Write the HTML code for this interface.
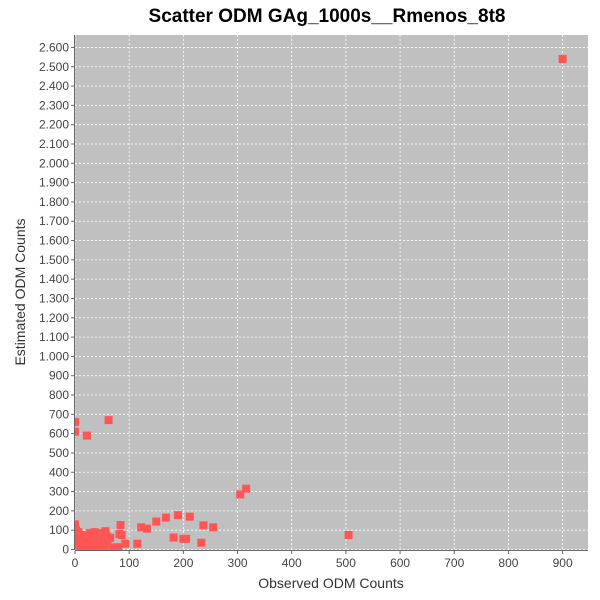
<!DOCTYPE html>
<html><head><meta charset="utf-8"><style>
body{margin:0;background:#fff;}
svg{display:block;font-family:"Liberation Sans",sans-serif;}
</style></head><body>
<svg id="chart" width="600" height="600">
<defs><clipPath id="pc"><rect x="75" y="35" width="513" height="515"/></clipPath></defs>
<rect width="600" height="600" fill="#fff"/>
<text x="327" y="22" text-anchor="middle" font-size="19" font-weight="bold">Scatter ODM GAg_1000s__Rmenos_8t8</text>
<rect x="75" y="35" width="513" height="515" fill="#c0c0c0"/>
<g id="grid"></g><g id="ticks"></g><g id="points" clip-path="url(#pc)"></g>
<line x1="74.5" y1="35" x2="74.5" y2="550" stroke="#666"/>
<line x1="75" y1="550.5" x2="588" y2="550.5" stroke="#666"/>
<text x="331" y="588" text-anchor="middle" font-size="14" fill="#333">Observed ODM Counts</text>
<text transform="translate(25,292) rotate(-90)" text-anchor="middle" font-size="14" fill="#333">Estimated ODM Counts</text>
</svg>
<script>
const xTicks=[0,100,200,300,400,500,600,700,800,900];
const yTicks=[0,100,200,300,400,500,600,700,800,900,1000,1100,1200,1300,1400,1500,1600,1700,1800,1900,2000,2100,2200,2300,2400,2500,2600];
const obsX=[0,0,22,62,305,316,190,168,150,212,237,255,122,133,84,82,86,93,115,182,200,205,233,0,505,900,
2,5,8,12,15,18,22,25,28,30,33,36,40,43,46,50,53,56,58,60,65,70,75,80,3,10,20,35,45,55,7,17,27,38,48,52,2,6,14,24,32,42,62,78];
const estY=[660,610,590,670,285,315,178,165,145,170,125,115,115,108,127,80,75,30,30,62,55,55,35,130,75,2540,
80,70,60,75,50,65,40,55,85,30,70,90,45,60,85,20,50,95,70,40,60,10,8,5,20,10,5,15,30,10,45,25,70,80,55,65,100,90,35,20,10,5,62,12];
const sx=v=>75+v*0.5418, sy=v=>549.5-v*0.1931;
const ns="http://www.w3.org/2000/svg";
const grid=document.getElementById('grid'),ticks=document.getElementById('ticks'),pts=document.getElementById('points');
function mk(tag,a,p){const e=document.createElementNS(ns,tag);for(const k in a)e.setAttribute(k,a[k]);p.appendChild(e);return e;}
xTicks.forEach(t=>{const x=sx(t);
 const g=mk('line',{x1:x,y1:35,x2:x,y2:550,stroke:'#fff','stroke-dasharray':'2,2','stroke-width':0.8},grid);
 
 
 mk('line',{x1:x,y1:551,x2:x,y2:554,stroke:'#666'},ticks);
 const l=mk('text',{x:x,y:567,'text-anchor':'middle','font-size':12,fill:'#444'},ticks);l.textContent=t;
 
 });
yTicks.forEach(t=>{const y=sy(t);
 const g=mk('line',{x1:75,y1:y,x2:588,y2:y,stroke:'#fff','stroke-dasharray':'2,2','stroke-width':0.8},grid);
 
 
 mk('line',{x1:71,y1:y,x2:74,y2:y,stroke:'#666'},ticks);
 const l=mk('text',{x:69,y:y+4,'text-anchor':'end','font-size':12,fill:'#444'},ticks);l.textContent=t.toLocaleString('de-DE');
 
 });
obsX.forEach((v,i)=>{const x=sx(v),y=sy(estY[i]);
 const r=mk('rect',{x:x-4,y:y-4,width:8,height:8,fill:'#ff5555'},pts);
 
 });
</script>
</body></html>
